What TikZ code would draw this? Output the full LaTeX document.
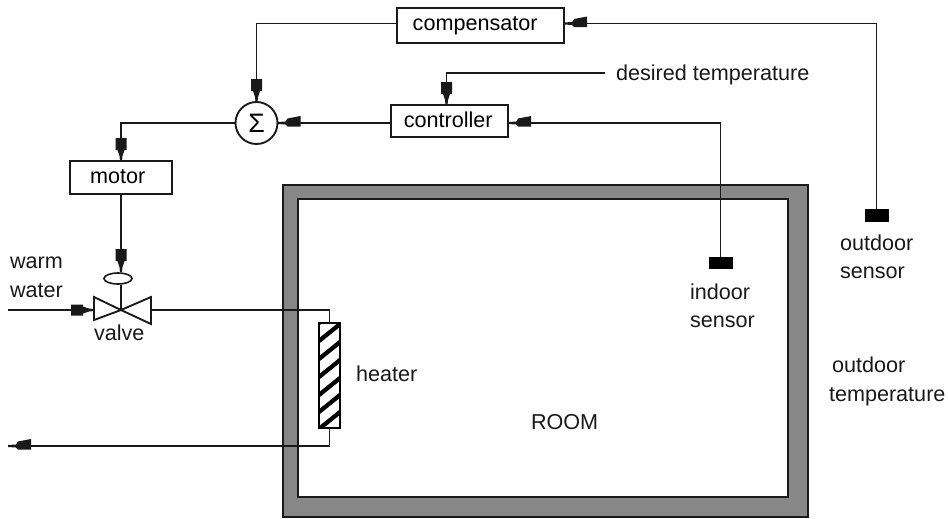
\documentclass[tikz,border=0pt]{standalone}
\usepackage{fontspec}
\usetikzlibrary{shapes.geometric}
\setmainfont{Liberation Sans}
\newcommand{\bkpt}[2]{\pgfpoint{-0.75*#1pt}{0.75*#2pt}}
\pgfdeclarearrow{
  name=BlkSym,
  setup code={\pgfarrowssettipend{0pt}\pgfarrowssetlineend{-6pt}\pgfarrowssetvisualbackend{-17pt}\pgfarrowssetbackend{-17pt}},
  drawing code={
    \pgfpathmoveto{\bkpt{0}{-1}}
    \pgfpathlineto{\bkpt{5}{-1.5}}
    \pgfpathlineto{\bkpt{11}{-3.5}}
    \pgfpathlineto{\bkpt{11}{-5.5}}
    \pgfpathlineto{\bkpt{23}{-5.5}}
    \pgfpathlineto{\bkpt{23}{5.5}}
    \pgfpathlineto{\bkpt{11}{5.5}}
    \pgfpathlineto{\bkpt{11}{3.5}}
    \pgfpathlineto{\bkpt{5}{1.5}}
    \pgfpathlineto{\bkpt{0}{1}}
    \pgfpathclose
    \pgfusepathqfill
  }
}
\pgfdeclarearrow{
  name=BlkOff,
  setup code={\pgfarrowssettipend{0pt}\pgfarrowssetlineend{-6pt}\pgfarrowssetvisualbackend{-17pt}\pgfarrowssetbackend{-17pt}},
  drawing code={
    \pgfpathmoveto{\bkpt{0}{-1}}
    \pgfpathlineto{\bkpt{8}{-1.5}}
    \pgfpathlineto{\bkpt{10}{-4.5}}
    \pgfpathlineto{\bkpt{23}{-7}}
    \pgfpathlineto{\bkpt{23}{3.5}}
    \pgfpathlineto{\bkpt{10}{3.5}}
    \pgfpathlineto{\bkpt{8}{1.5}}
    \pgfpathlineto{\bkpt{0}{1}}
    \pgfpathclose
    \pgfusepathqfill
  }
}
\tikzset{
  wire/.style={draw=black!90, line width=1.4pt, line join=miter},
  blockbox/.style={draw=black!90, line width=1.4pt, fill=white, inner sep=0pt, outer sep=0pt, font=\fontsize{16.2}{18}\selectfont},
  lbl/.style={inner sep=0pt, outer sep=0pt, anchor=base west, text=black!90, font=\fontsize{16.2}{18}\selectfont},
  sensorblock/.style={fill=black, inner sep=0pt, outer sep=0pt, minimum width=18pt, minimum height=9.5pt},
}
\begin{document}
\begin{tikzpicture}[x=.75pt,y=-.75pt]
\useasboundingbox (0,0) rectangle (948,518);
% room wall
\fill[black!47, even odd rule] (283,185) rectangle (808,517) (298,199) rectangle (788,497);
\draw[black!90, line width=1pt] (283,185) rectangle (808,517);
\draw[black!90, line width=1pt] (298,199) rectangle (788,497);
% blocks
\node[blockbox, minimum width=125.5pt, minimum height=26.25pt] (comp) at (480.5,25.5) {\raisebox{1pt}{compensator}\kern8pt\relax};
\node[blockbox, minimum width=88pt, minimum height=24pt] (ctrl) at (449.5,121) {\raisebox{1.5pt}{controller}\kern2pt\relax};
\node[blockbox, minimum width=77pt, minimum height=24.75pt] (motor) at (121,177.5) {\raisebox{1pt}{motor}\kern5pt\relax};
\node[blockbox, circle, minimum size=31.5pt] (sigma) at (256.5,123) {\fontsize{20}{20}\selectfont Σ};
% heater
\node[draw=black, line width=1.5pt, fill=white, inner sep=0pt, outer sep=0pt, minimum width=15.75pt, minimum height=78.75pt,
  path picture={
    \foreach \s in {-0.75,12,24.75,38.25,51.75,65.25,78.75}
      \draw[line width=3.2pt] ([yshift=\s pt]path picture bounding box.south west) -- ++(21,-17);
  }] (heater) at (329.5,375.5) {};
% sensors
\node[sensorblock] (insens) at (720.5,263) {};
\node[sensorblock] (outsens) at (876.5,215.5) {};
% valve
\coordinate (apex) at (121,310);
\coordinate (valveL) at (94,310);
\coordinate (valveR) at (151,310);
\coordinate (wwin) at (8,310);
\coordinate (retend) at (8,446);
\coordinate (desend) at (605,73);
\node[draw=black!90, line width=1.2pt, ellipse, fill=white, inner sep=0pt, minimum width=21pt, minimum height=8.25pt] (cap) at (118,278.5) {};
\draw[wire] (apex) -- (94,297) -- (94,320) -- cycle;
\draw[wire] (apex) -- (151,297) -- (151,324) -- cycle;
% connectors
\draw[wire] (cap.south -| apex) -- (apex);
\draw[wire,-{BlkSym}] ([yshift=1.5pt]comp.west) -| (sigma.north);
\draw[wire,-{BlkOff}] ([yshift=-1.5pt]ctrl.west) -- (sigma.east);
\draw[wire,-{BlkSym}] (sigma.west) -| (motor.north);
\draw[wire,-{BlkSym}] (motor.south) -- (cap.north -| motor.south);
\draw[wire,-{BlkSym}] (wwin) -- (valveL);
\draw[wire] (valveR) -| (heater.north);
\draw[wire,-{BlkOff}] (heater.south) |- (retend);
\draw[wire,-{BlkSym}] (desend) -| ([xshift=-2.25pt]ctrl.north);
\draw[wire,-{BlkOff}] (insens.north) |- ([yshift=-1.5pt]ctrl.east);
\draw[wire,-{BlkOff}] (outsens.north) |- ([yshift=1.5pt]comp.east);
% labels
\node[lbl] (t1) at (616,80) {desired temperature};
\node[lbl] (t2) at (10,268) {warm};
\node[lbl] (t3) at (10,297) {water};
\node[lbl] (t4) at (94,340) {valve};
\node[lbl] (t5) at (356,381) {heater};
\node[lbl] (t6) at (531,429) {ROOM};
\node[lbl] (t7) at (690,299) {indoor};
\node[lbl] (t8) at (690,327) {sensor};
\node[lbl] (t9) at (840,250) {outdoor};
\node[lbl] (t10) at (840,278) {sensor};
\node[lbl] (t11) at (832,372) {outdoor};
\node[lbl] (t12) at (829,401) {temperature};
\end{tikzpicture}
\end{document}
